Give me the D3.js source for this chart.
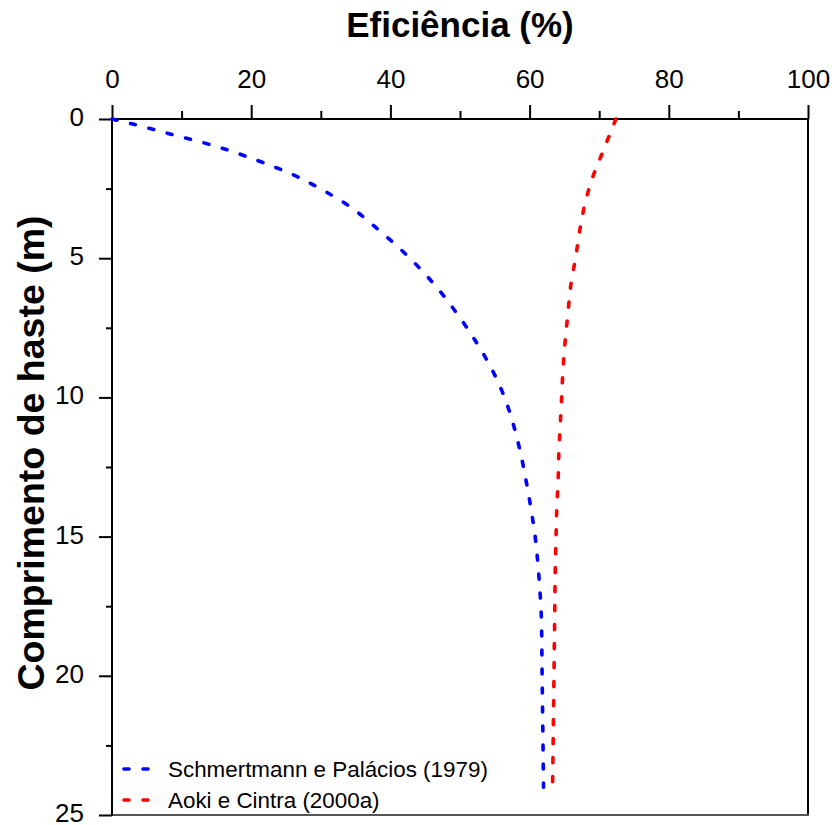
<!DOCTYPE html>
<html><head><meta charset="utf-8">
<script src="https://cdn.jsdelivr.net/npm/d3@7"></script>
<style>body{margin:0;background:#fff}svg{display:block}text{font-family:"Liberation Sans",Arial,sans-serif}</style>
</head><body>
<svg id="c" width="835" height="825"></svg>
<script>
const xTicks = [0, 20, 40, 60, 80, 100];
const yTicks = [0, 5, 10, 15, 20, 25];
const seriesNames = ["Schmertmann e Palácios (1979)", "Aoki e Cintra (2000a)"];
const seriesColors = ["#0000ff", "#ff0000"];
const depthBlue = [0, 0.2, 0.5, 1, 1.5, 2, 2.5, 3, 4, 5, 6, 7, 8, 9, 10, 11, 12, 13, 14, 15, 16, 17, 18, 20, 22, 24];
const effBlue   = [0, 3.3, 7.8, 15.2, 21.0, 26.0, 29.9, 33.3, 38.4, 42.8, 46.5, 49.6, 52.3, 54.6, 56.4, 57.7, 58.7, 59.5, 60.2, 60.8, 61.2, 61.5, 61.7, 61.8, 61.9, 62.0];
const depthRed  = [0, 0.5, 1, 1.5, 2, 3, 4, 5, 6, 7, 8, 9, 10, 11, 12, 13, 14, 15, 16, 18, 20, 22, 24];
const effRed    = [72.4, 71.6, 70.8, 70.0, 69.2, 68.0, 67.2, 66.6, 65.9, 65.5, 65.1, 64.8, 64.6, 64.4, 64.2, 64.1, 63.9, 63.8, 63.7, 63.6, 63.5, 63.4, 63.3];

const svg = d3.select("#c");
const L = 112, R = 808, T = 119, B = 815;
const x = d3.scaleLinear().domain([0, 100]).range([L, R]);
const y = d3.scaleLinear().domain([0, 25]).range([T, B]);

// frame: right and bottom
svg.append("line").attr("x1", R).attr("x2", R).attr("y1", T).attr("y2", B).attr("stroke", "#000").attr("stroke-width", 2);
svg.append("line").attr("x1", L).attr("x2", R + 1).attr("y1", B).attr("y2", B).attr("stroke", "#555").attr("stroke-width", 2);

// top axis
const xa = svg.append("g").attr("transform", `translate(0,${T})`)
  .call(d3.axisTop(x).tickValues(xTicks).tickSize(14).tickPadding(17).tickFormat(d3.format("d")));
const xm = svg.append("g").attr("transform", `translate(0,${T})`)
  .call(d3.axisTop(x).tickValues(d3.range(10, 100, 20)).tickSize(8).tickFormat(""));
// left axis
const ya = svg.append("g").attr("transform", `translate(${L},0)`)
  .call(d3.axisLeft(y).tickValues(yTicks).tickSize(13).tickPadding(15).tickFormat(d3.format("d")));
const ym = svg.append("g").attr("transform", `translate(${L},0)`)
  .call(d3.axisLeft(y).tickValues(d3.range(2.5, 25, 5)).tickSize(6).tickFormat(""));
[xa, xm, ya, ym].forEach(g => {
  g.select(".domain").remove();
  g.selectAll(".tick line").attr("stroke", "#000").attr("stroke-width", 2);
  g.selectAll("text").attr("font-size", 26).attr("fill", "#000").attr("font-family", "Liberation Sans, Arial, sans-serif");
});
ya.selectAll("text").attr("dy", "0.25em");
svg.append("line").attr("x1", L - 1).attr("x2", R + 1).attr("y1", T).attr("y2", T).attr("stroke", "#000").attr("stroke-width", 2);
svg.append("line").attr("x1", L).attr("x2", L).attr("y1", T).attr("y2", B + 1).attr("stroke", "#000").attr("stroke-width", 2);

// curves
const line = d3.line().x(d => x(d[1])).y(d => y(d[0])).curve(d3.curveMonotoneY);
const data = [d3.zip(depthBlue, effBlue), d3.zip(depthRed, effRed)];
data.forEach((s, i) => {
  svg.append("path").datum(s).attr("d", line).attr("fill", "none")
    .attr("stroke", seriesColors[i]).attr("stroke-width", 3.6)
    .attr("stroke-linecap", "round").attr("stroke-dasharray", "5,14");
});

// titles
svg.append("text").attr("x", (L + R) / 2).attr("y", 37).attr("text-anchor", "middle")
  .attr("font-size", 35).attr("font-weight", "bold").text("Eficiência (%)");
svg.append("text").attr("transform", `translate(44,453) rotate(-90)`).attr("text-anchor", "middle")
  .attr("font-size", 37.5).attr("font-weight", "bold").text("Comprimento de haste (m)");

// legend
const lg = svg.append("g");
seriesNames.forEach((n, i) => {
  const yy = 769 + i * 31;
  lg.append("line").attr("x1", 124).attr("x2", 151).attr("y1", yy).attr("y2", yy)
    .attr("stroke", seriesColors[i]).attr("stroke-width", 3.6).attr("stroke-linecap", "round")
    .attr("stroke-dasharray", "5,14");
  lg.append("text").attr("x", 168).attr("y", yy + 8).attr("font-size", 22.4).attr("fill", "#000").text(n);
});
</script>
</body></html>
